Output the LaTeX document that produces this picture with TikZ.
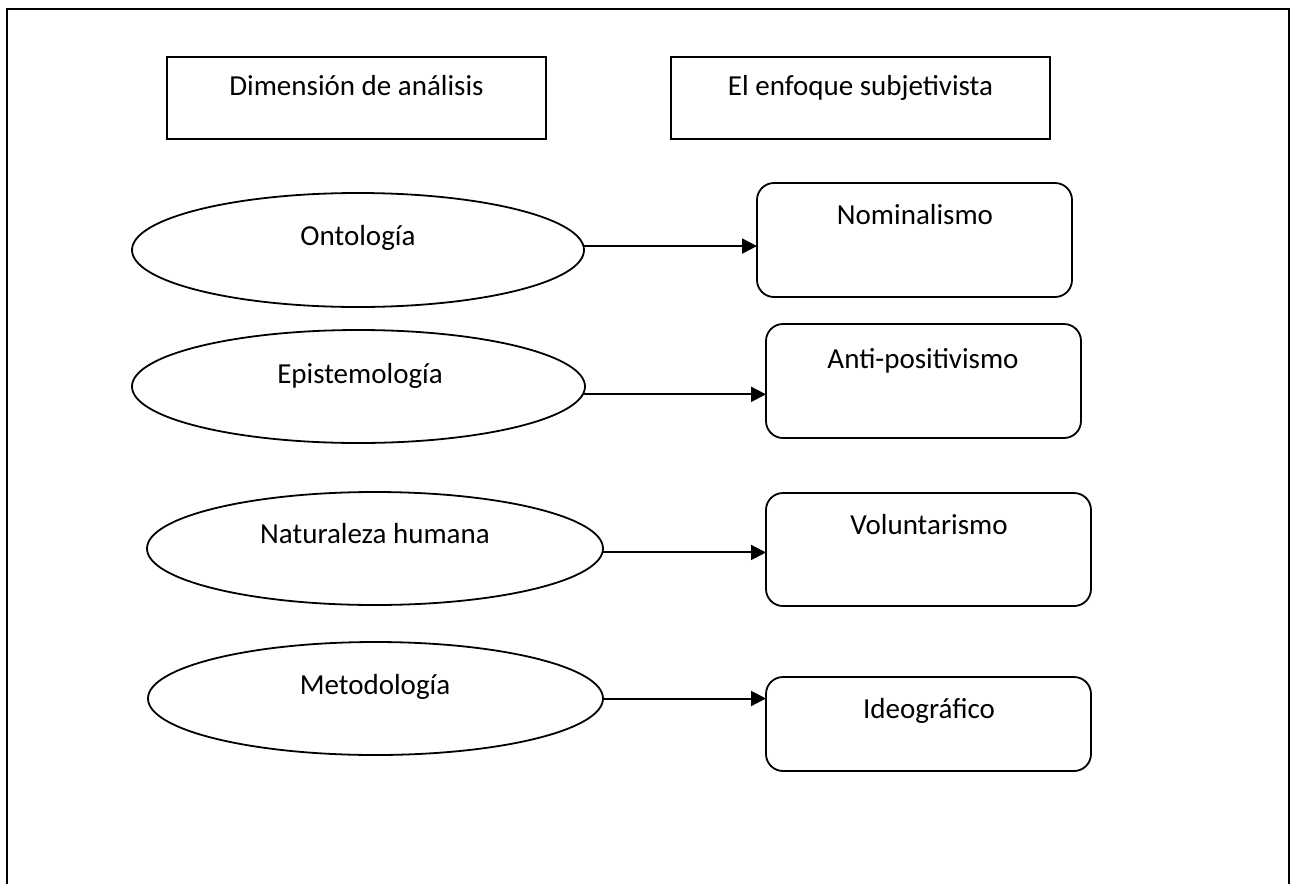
\documentclass[tikz,border=0pt]{standalone}
\usepackage{fontspec}
\setmainfont{Carlito}
\usetikzlibrary{arrows.meta,shapes.geometric}
\begin{document}
\begin{tikzpicture}[x=1pt,y=-1pt,
  every node/.style={inner sep=0pt,outer sep=0pt},
  hdrbox/.style={draw,line width=1.8pt,rectangle,minimum width=379pt,minimum height=82pt},
  ellnode/.style={draw,line width=1.8pt,ellipse},
  rbox/.style={draw,line width=1.8pt,rectangle,rounded corners=17pt},
  lbl/.style={anchor=base,font=\fontsize{29}{34}\selectfont},
  arr/.style={line width=2pt,-{Triangle[length=15pt,width=15pt]}}]
\useasboundingbox (0,0) rectangle (1291,884);
% outer frame (open at bottom)
\draw[line width=2pt] (7,884) -- (7,9) -- (1289,9) -- (1289,884);
% header boxes
\node[hdrbox] (h1) at (356.5,98) {};
\node[lbl] (h1t) at (356.5,95) {Dimensión de análisis};
\node[hdrbox] (h2) at (860.5,98) {};
\node[lbl] (h2t) at (860.5,95) {El enfoque subjetivista};
% ellipses
\node[ellnode,minimum width=452pt,minimum height=114pt] (e1) at (358,250) {};
\node[lbl] (e1t) at (358,245) {Ontología};
\node[ellnode,minimum width=453pt,minimum height=113pt] (e2) at (358.5,386.5) {};
\node[lbl] (e2t) at (360,383) {Epistemología};
\node[ellnode,minimum width=456pt,minimum height=113pt] (e3) at (375,548.5) {};
\node[lbl] (e3t) at (375,543) {Naturaleza humana};
\node[ellnode,minimum width=455pt,minimum height=113pt] (e4) at (375.5,698.5) {};
\node[lbl] (e4t) at (375,694) {Metodología};
% rounded boxes
\node[rbox,minimum width=315pt,minimum height=114pt] (b1) at (914.5,240) {};
\node[lbl] (b1t) at (915,224) {Nominalismo};
\node[rbox,minimum width=315pt,minimum height=114pt] (b2) at (923.5,381) {};
\node[lbl] (b2t) at (923,368) {Anti-positivismo};
\node[rbox,minimum width=325pt,minimum height=113pt] (b3) at (928.5,549.5) {};
\node[lbl] (b3t) at (929,534) {Voluntarismo};
\node[rbox,minimum width=325pt,minimum height=94pt] (b4) at (928.5,724) {};
\node[lbl] (b4t) at (929,718) {Ideográfico};
% connectors
\draw[arr] (e1.1.5) -- (e1.1.5 -| b1.west);
\draw[arr] (e2.-2) -- (e2.-2 -| b2.west);
\draw[arr] (e3.-1.7) -- (e3.-1.7 -| b3.west);
\draw[arr] (e4.0) -- (e4.0 -| b4.west);
\end{tikzpicture}
\end{document}
